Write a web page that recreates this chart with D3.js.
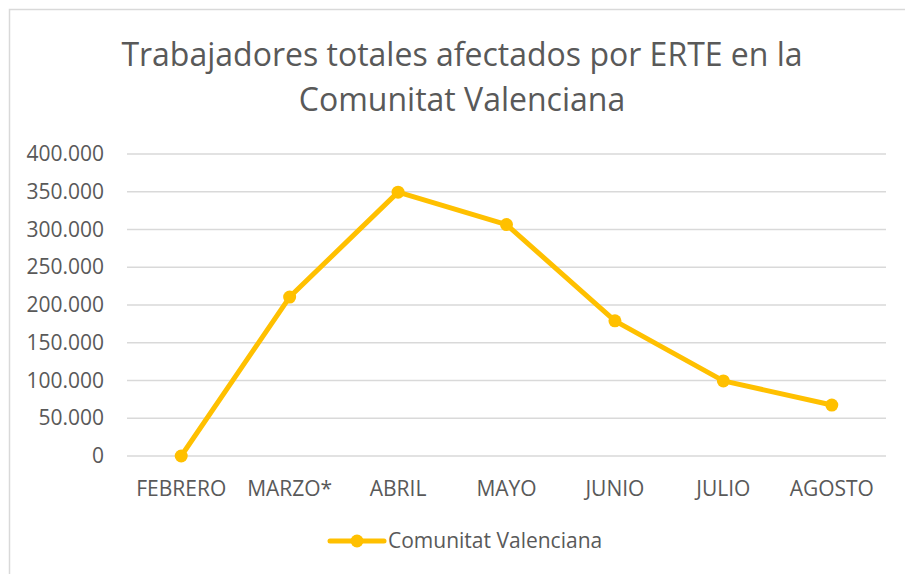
<!DOCTYPE html>
<html>
<head>
<meta charset="utf-8">
<script src="https://cdn.jsdelivr.net/npm/d3@7"></script>
<style>
  body { margin: 0; background: #fff; }
  text { font-family: "Open Sans", sans-serif; fill: #595959; }
</style>
</head>
<body>
<svg id="chart" width="905" height="574"></svg>
<script>
var months = ["FEBRERO", "MARZO*", "ABRIL", "MAYO", "JUNIO", "JULIO", "AGOSTO"];
var workers = [0, 210500, 349500, 306500, 179000, 99500, 67500];
var yTicks = [0, 50000, 100000, 150000, 200000, 250000, 300000, 350000, 400000];
var seriesName = "Comunitat Valenciana";
var titleLines = ["Trabajadores totales afectados por ERTE en la", "Comunitat Valenciana"];

var svg = d3.select("#chart");
var color = "#FFC000";

// chart area border (cut off at right and bottom like the screenshot)
svg.append("rect")
    .attr("x", 9.5).attr("y", 9.5)
    .attr("width", 1000).attr("height", 1000)
    .attr("fill", "none")
    .attr("stroke", "#d9d9d9")
    .attr("stroke-width", 1.5);

var margin = {left: 127, right: 19, top: 154, bottom: 118},
    width = 905 - margin.left - margin.right,
    height = 574 - margin.top - margin.bottom;

var g = svg.append("g")
    .attr("transform", "translate(" + margin.left + "," + margin.top + ")");

var x = d3.scaleBand().domain(months).range([0, width]);
var y = d3.scaleLinear().domain([0, 400000]).range([height, 0]);

var fmt = function (v) {
    return d3.format(",")(v).replace(/,/g, ".");
};

// gridlines
g.selectAll(".grid")
    .data(yTicks)
    .enter().append("line")
    .attr("x1", 0).attr("x2", width)
    .attr("y1", function (d) { return y(d); })
    .attr("y2", function (d) { return y(d); })
    .attr("stroke", "#d9d9d9")
    .attr("stroke-width", 1.5);

var yAxis = g.append("g")
    .call(d3.axisLeft(y).tickValues(yTicks).tickFormat(fmt).tickSize(0).tickPadding(23));
yAxis.select(".domain").remove();
yAxis.selectAll("text").style("font-size", "21px").attr("fill", "#595959");

var xAxis = g.append("g")
    .attr("transform", "translate(0," + height + ")")
    .call(d3.axisBottom(x).tickSize(0).tickPadding(25));
xAxis.select(".domain").remove();
xAxis.selectAll("text").style("font-size", "21px").attr("fill", "#595959");

var line = d3.line()
    .x(function (d, i) { return x(months[i]) + x.bandwidth() / 2; })
    .y(function (d) { return y(d); });

g.append("path")
    .datum(workers)
    .attr("d", line)
    .attr("fill", "none")
    .attr("stroke", color)
    .attr("stroke-width", 5)
    .attr("stroke-linejoin", "round")
    .attr("stroke-linecap", "round");

g.selectAll(".dot")
    .data(workers)
    .enter().append("circle")
    .attr("cx", function (d, i) { return x(months[i]) + x.bandwidth() / 2; })
    .attr("cy", function (d) { return y(d); })
    .attr("r", 6.5)
    .attr("fill", color);

// title
svg.append("text")
    .attr("x", 462)
    .attr("y", 66)
    .attr("text-anchor", "middle")
    .style("font-size", "32px")
    .selectAll("tspan")
    .data(titleLines)
    .enter().append("tspan")
    .attr("x", 462)
    .attr("dy", function (d, i) { return i === 0 ? 0 : 45; })
    .text(function (d) { return d; });

// legend
var lg = svg.append("g").attr("transform", "translate(330,541)");
lg.append("line")
    .attr("x1", 0).attr("x2", 54)
    .attr("stroke", color).attr("stroke-width", 5).attr("stroke-linecap", "round");
lg.append("circle").attr("cx", 27).attr("r", 6.5).attr("fill", color);
lg.append("text")
    .attr("x", 58).attr("y", 0).attr("dy", "0.35em")
    .style("font-size", "21px")
    .text(seriesName);
</script>
</body>
</html>
